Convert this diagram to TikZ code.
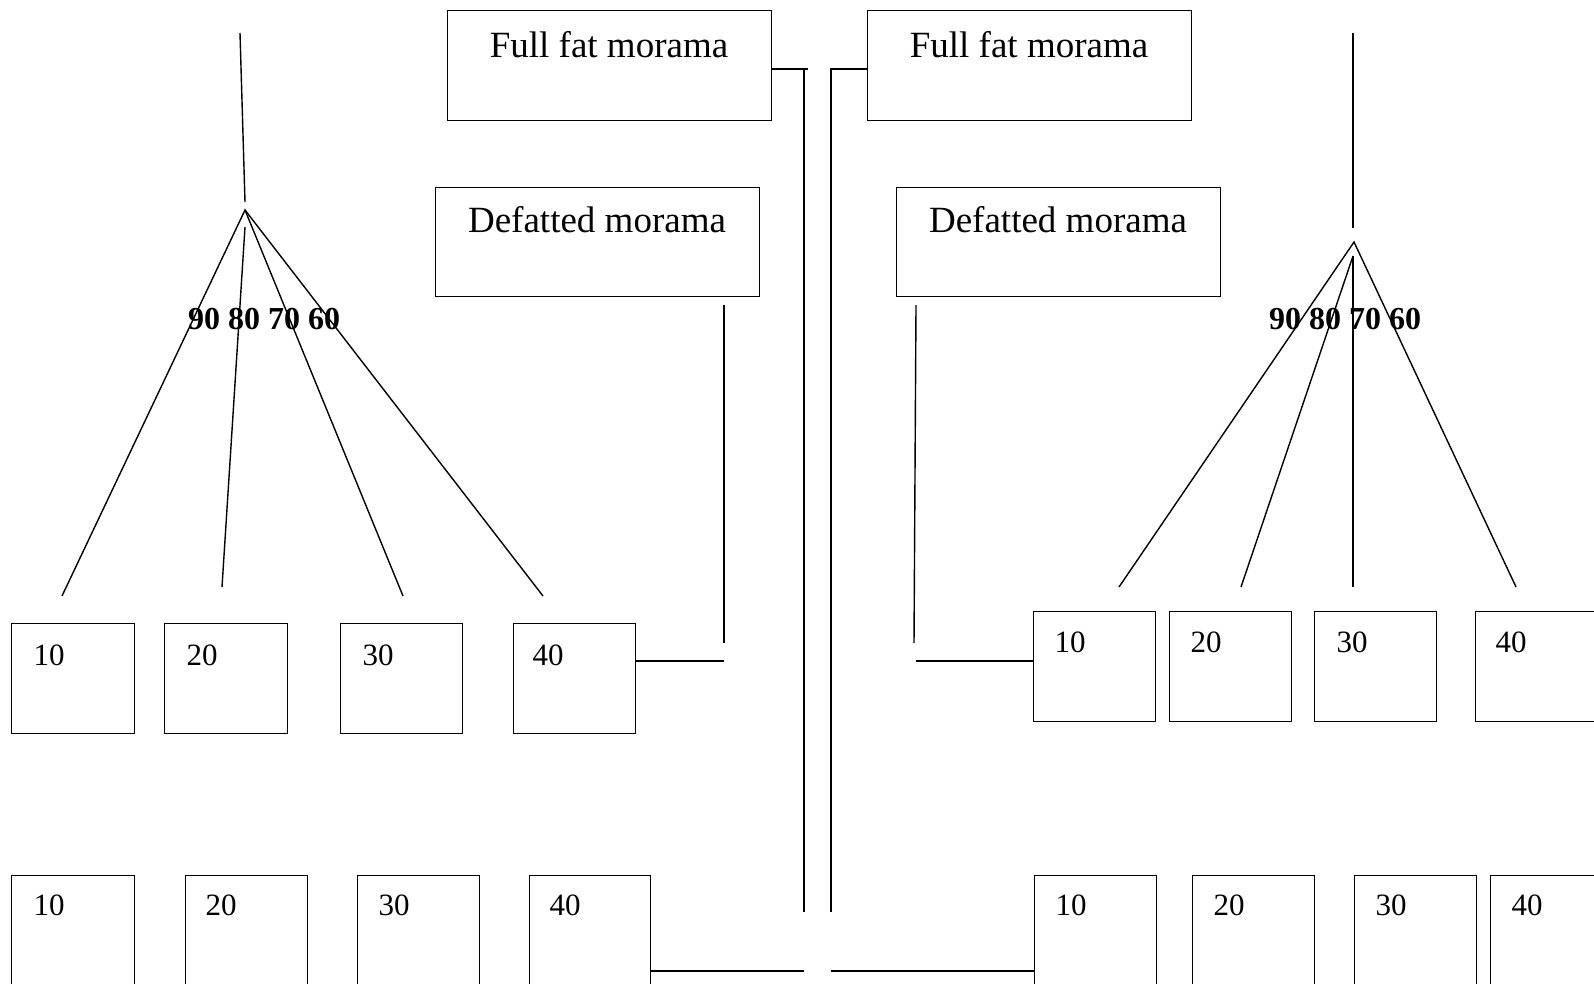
\documentclass[tikz,border=0pt]{standalone}
\usepackage{fontspec}
\setmainfont{Liberation Serif}
\begin{document}
\begin{tikzpicture}[x=1pt,y=-1pt,line width=1.4pt,
  box/.style={draw,rectangle,inner sep=0pt,anchor=north west,minimum width=122pt,minimum height=110pt},
  bigbox/.style={draw,rectangle,inner sep=0pt,anchor=north west,minimum width=324pt,minimum height=109pt},
  title/.style={anchor=base,inner sep=0pt,font=\fontsize{37}{44}\selectfont},
  num/.style={anchor=base west,inner sep=0pt,font=\fontsize{31}{37}\selectfont},
  pct/.style={anchor=base,inner sep=0pt,font=\fontsize{32}{38}\selectfont\bfseries}]
\useasboundingbox (0,0) rectangle (1594,983);
\clip (0,0) rectangle (1594,983);

% top boxes
\node[bigbox,minimum height=110pt] (ffL) at (447,10) {};
\node[title] (ffLt) at (609,57) {Full fat morama};
\node[bigbox,minimum height=110pt] (ffR) at (867,10) {};
\node[title] (ffRt) at (1029,57) {Full fat morama};
\node[bigbox] (dfL) at (435,187) {};
\node[title] (dfLt) at (597,232) {Defatted morama};
\node[bigbox] (dfR) at (896,187) {};
\node[title] (dfRt) at (1058,232) {Defatted morama};

% left row 1
\node[box,minimum width=123pt] (a1) at (11,623) {};
\node[box,minimum width=123pt] (a2) at (164,623) {};
\node[box] (a3) at (340,623) {};
\node[box] (a4) at (513,623) {};
\node[num] (a1t) at (33,665) {10};
\node[num] (a2t) at (186,665) {20};
\node[num] (a3t) at (362,665) {30};
\node[num] (a4t) at (532,665) {40};

% left row 2
\node[box,minimum width=123pt] (b1) at (11,875) {};
\node[box] (b2) at (185,875) {};
\node[box] (b3) at (357,875) {};
\node[box,minimum width=121pt] (b4) at (529,875) {};
\node[num] (b1t) at (33,915) {10};
\node[num] (b2t) at (205,915) {20};
\node[num] (b3t) at (378,915) {30};
\node[num] (b4t) at (549,915) {40};

% right row 1
\node[box] (c1) at (1033,611) {};
\node[box] (c2) at (1169,611) {};
\node[box] (c3) at (1314,611) {};
\node[box] (c4) at (1475,611) {};
\node[num] (c1t) at (1054,652) {10};
\node[num] (c2t) at (1190,652) {20};
\node[num] (c3t) at (1336,652) {30};
\node[num] (c4t) at (1495,652) {40};

% right row 2
\node[box] (d1) at (1034,875) {};
\node[box] (d2) at (1192,875) {};
\node[box] (d3) at (1354,875) {};
\node[box] (d4) at (1490,875) {};
\node[num] (d1t) at (1055,915) {10};
\node[num] (d2t) at (1213,915) {20};
\node[num] (d3t) at (1375,915) {30};
\node[num] (d4t) at (1511,915) {40};

% left tree
\coordinate (ltop) at (240,33);
\coordinate (lstem) at (245,202);
\coordinate (lapex) at (245,210);
\coordinate (lapex2) at (245,227);
\coordinate (l1) at (62,596);
\coordinate (l2) at (222,587);
\coordinate (l3) at (403,596);
\coordinate (l4) at (543,596);
\draw (ltop) -- (lstem);
\draw (l1) -- (lapex) -- (l3);
\draw (lapex) -- (l4);
\draw (lapex2) -- (l2);
\node[pct] (lpct) at (264,329) {90 80 70 60};

% right tree
\coordinate (rtop) at (1353,33);
\coordinate (rstem) at (1353,228);
\coordinate (rapex) at (1354,242);
\coordinate (rapex2) at (1353,256);
\coordinate (r1) at (1119,587);
\coordinate (r2) at (1241,587);
\coordinate (r3) at (1353,587);
\coordinate (r4) at (1516,587);
\draw (rtop) -- (rstem);
\draw (r1) -- (rapex) -- (r4);
\draw (rapex2) -- (r2);
\draw (rapex2) -- (r3);
\node[pct] (rpct) at (1345,329) {90 80 70 60};

% central connectors
\coordinate (vL) at (804,69);
\coordinate (vLb) at (804,912);
\coordinate (vLt) at (808,69);
\draw (ffL.east |- vLt) -- (vLt);
\draw (vL) -- (vLb);
\coordinate (vR) at (831,69);
\coordinate (vRb) at (831,912);
\draw (vRb) -- (vR) -- (ffR.west |- vR);

\coordinate (hbL) at (804,971);
\draw (b4.east |- hbL) -- (hbL);
\coordinate (hbR) at (831,971);
\draw (hbR) -- (d1.west |- hbR);

% defatted connectors
\coordinate (dLt) at (724,305);
\coordinate (dLb) at (724,643);
\coordinate (dLh) at (724,661);
\draw (dLt) -- (dLb);
\draw (a4.east |- dLh) -- (dLh);
\coordinate (dRt) at (916,305);
\coordinate (dRb) at (914,643);
\coordinate (dRh) at (916,661);
\draw (dRt) -- (dRb);
\draw (dRh) -- (c1.west |- dRh);
\end{tikzpicture}
\end{document}
